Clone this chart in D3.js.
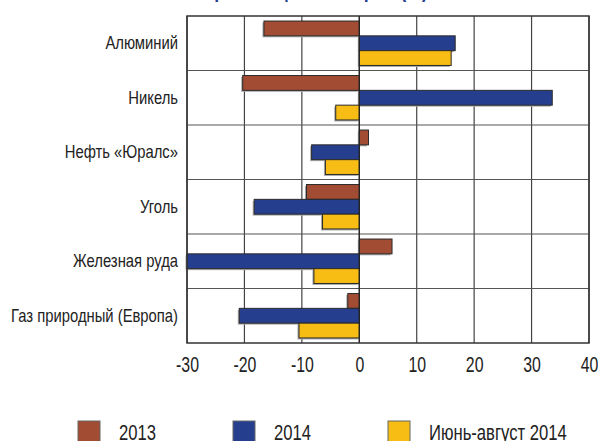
<!DOCTYPE html>
<html>
<head>
<meta charset="utf-8">
<script src="https://cdn.jsdelivr.net/npm/d3@7"></script>
<style>
    body { margin: 0; background: #fff; }
    svg text { font-family: "Liberation Sans", Arial, sans-serif; fill: #222; }
</style>
</head>
<body>
<div id="chart"></div>
<script>
// data
var categories = ["Алюминий", "Никель", "Нефть «Юралс»", "Уголь", "Железная руда", "Газ природный (Европа)"];
var seriesNames = ["2013", "2014", "Июнь-август 2014"];
var values2013 = [-16.6, -20.3, 1.6, -9.2, 5.7, -2.0];
var values2014 = [16.7, 33.6, -8.3, -18.3, -30, -20.9];
var valuesJunAug = [16.0, -4.1, -5.9, -6.4, -7.9, -10.5];
var tickValues = [-30, -20, -10, 0, 10, 20, 30, 40];
var colors = ["#a24d33", "#253f8e", "#f7bd14"];

var width = 598, height = 441;
var margin = {top: 16, right: 9, bottom: 98, left: 187};
var squeeze = 0.74; // the original type is a narrow face

var svg = d3.select('#chart').append('svg')
    .attr('width', width)
    .attr('height', height);

// title, mostly cut off by the top edge
svg.append('g')
    .attr('transform', 'translate(428,-3)')
    .append('text')
    .attr('transform', `scale(${squeeze},1)`)
    .attr('text-anchor', 'end')
    .style('font-size', '24px')
    .style('font-weight', 'bold')
    .style('fill', '#253f8e')
    .text('Изменение мировых цен на сырьё (%)');

var x = d3.scaleLinear()
    .domain([-30, 40])
    .range([margin.left, width - margin.right]);

var y = d3.scaleBand()
    .domain(categories)
    .range([margin.top, height - margin.bottom]);

var inner = d3.scaleBand()
    .domain(seriesNames)
    .range([0, y.bandwidth()])
    .paddingOuter(0.34);

var series = [values2013, values2014, valuesJunAug];

// grid
svg.append('g')
    .selectAll('line')
    .data(tickValues)
    .enter().append('line')
    .attr('x1', d => x(d)).attr('x2', d => x(d))
    .attr('y1', margin.top).attr('y2', height - margin.bottom)
    .attr('stroke', '#444')
    .attr('stroke-width', 1.2);

svg.append('g')
    .selectAll('line')
    .data(categories.slice(1))
    .enter().append('line')
    .attr('x1', margin.left).attr('x2', width - margin.right)
    .attr('y1', d => y(d)).attr('y2', d => y(d))
    .attr('stroke', '#555')
    .attr('stroke-width', 1.2);

// bars
var rows = [];
categories.forEach((c, i) => {
    series.forEach((s, j) => {
        rows.push({cat: c, name: seriesNames[j], value: s[i], color: colors[j]});
    });
});

// soft shadow
svg.append('g')
    .selectAll('rect')
    .data(rows)
    .enter().append('rect')
    .attr('x', d => Math.min(x(0), x(d.value)) - 1.5)
    .attr('y', d => y(d.cat) + inner(d.name) + 1.5)
    .attr('width', d => Math.abs(x(d.value) - x(0)))
    .attr('height', inner.bandwidth())
    .attr('fill', '#aaa');

svg.append('g')
    .selectAll('rect')
    .data(rows)
    .enter().append('rect')
    .attr('x', d => Math.min(x(0), x(d.value)))
    .attr('y', d => y(d.cat) + inner(d.name))
    .attr('width', d => Math.abs(x(d.value) - x(0)))
    .attr('height', inner.bandwidth())
    .attr('fill', d => d.color)
    .attr('stroke', '#2a2a2a')
    .attr('stroke-width', 1);

// zero line + frame
svg.append('line')
    .attr('x1', x(0)).attr('x2', x(0))
    .attr('y1', margin.top).attr('y2', height - margin.bottom)
    .attr('stroke', '#222').attr('stroke-width', 1.2);

svg.append('rect')
    .attr('x', margin.left).attr('y', margin.top)
    .attr('width', width - margin.right - margin.left)
    .attr('height', height - margin.bottom - margin.top)
    .attr('fill', 'none')
    .attr('stroke', '#333')
    .attr('stroke-width', 1.5);

// x axis labels (plain hyphen for negatives, as in the original)
var xAxis = d3.axisBottom(x)
    .tickValues(tickValues)
    .tickSize(0)
    .tickPadding(13)
    .tickFormat(d => String(d));

svg.append('g')
    .attr('transform', `translate(0,${height - margin.bottom})`)
    .call(xAxis)
    .call(g => g.select('.domain').remove())
    .selectAll('text')
    .style('font-size', '22px')
    .style('font-family', '"Liberation Sans", Arial, sans-serif')
    .attr('fill', '#222')
    .attr('transform', `scale(0.72,1)`);

// category labels
var yAxis = d3.axisLeft(y).tickSize(0).tickPadding(0);
svg.append('g')
    .attr('transform', `translate(${margin.left - 9},0)`)
    .call(yAxis)
    .call(g => g.select('.domain').remove())
    .selectAll('text')
    .attr('x', 0)
    .style('font-size', '18.5px')
    .style('font-family', '"Liberation Sans", Arial, sans-serif')
    .attr('fill', '#222')
    .attr('transform', 'scale(0.8,1)');

// legend
var legendX = [78, 233, 388];
var legend = svg.append('g')
    .selectAll('g')
    .data(seriesNames)
    .enter().append('g')
    .attr('transform', (d, i) => `translate(${legendX[i]},421)`);

legend.append('rect')
    .attr('width', 22).attr('height', 24)
    .attr('fill', (d, i) => colors[i])
    .attr('stroke', '#666')
    .attr('stroke-width', 1);

legend.append('g')
    .attr('transform', 'translate(41,19)')
    .append('text')
    .attr('transform', `scale(${squeeze},1)`)
    .style('font-size', '22.5px')
    .text(d => d);
</script>
</body>
</html>
